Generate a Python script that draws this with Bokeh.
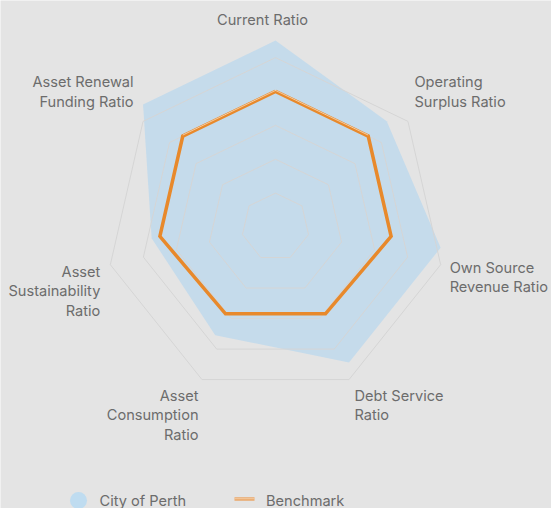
import numpy as np
from bokeh.plotting import figure
from bokeh.models import Range1d
from bokeh.embed import file_html
from bokeh.resources import INLINE
from bokeh.core.properties import value

# ---------------- data ----------------
categories = ["Current Ratio", "Operating\nSurplus Ratio", "Own Source\nRevenue Ratio",
              "Debt Service\nRatio", "Asset\nConsumption\nRatio",
              "Asset\nSustainability\nRatio", "Asset Renewal\nFunding Ratio"]
city_of_perth = [100, 84, 100, 100, 82, 75, 100]
benchmark = [70, 70, 70, 68, 68, 70, 70]
ring_levels = [20, 40, 60, 80, 100]
series_names = ["City of Perth", "Benchmark"]

# ---------------- layout ----------------
W, H = 551, 508
CX, CY = 275, 226.5        # grid centre
SERIES_CY = 209.5          # series polygons sit slightly higher, as in the reference
R = 169.4
VMAX = 100
FONT = value("Inter")
FS = "14.6px"
TXT = "#6c6c6c"
BG = "#e4e4e4"

n = len(categories)
ang = np.arange(n) * 2 * np.pi / n


def poly(vals, cy):
    r = np.asarray(vals, dtype=float) / VMAX * R
    return list(CX + r * np.sin(ang)), list(cy - r * np.cos(ang))


p = figure(width=W, height=H, x_range=Range1d(0, W), y_range=Range1d(H, 0),
           x_axis_type=None, y_axis_type=None, toolbar_location=None,
           output_backend="svg", min_border=0)
p.background_fill_color = BG
p.border_fill_color = BG
p.outline_line_color = None
p.grid.visible = False

# City of Perth area
cx, cy = poly(city_of_perth, SERIES_CY)
p.patch(cx, cy, fill_color="#c5dbeb", line_color=None)

# grid rings
for lv in ring_levels:
    gx, gy = poly([lv] * n, CY)
    p.line(gx + gx[:1], gy + gy[:1], line_color="#d5d5d5", line_width=1)

# benchmark
bx, by = poly(benchmark, SERIES_CY)
p.line(bx + bx[:1], by + by[:1], line_color="#e8892b", line_width=3.5, line_join="miter")
# light highlight on the two top edges
hx = [bx[-1], bx[0], bx[1]]
hy = [by[-1] - 1.0, by[0] - 1.0, by[1] - 1.0]
p.line(hx, hy, line_color="#f6d3ae", line_width=0.9, line_join="miter")

# axis labels
ox, oy = poly([VMAX] * n, CY)
label_place = [(-13, -38, "center"), (6.5, -39, "left"), (9, 3, "left"), (5.5, 16, "left"),
               (-3.5, 16, "right"), (-10, 7, "right"), (-9.5, -39, "right")]
LINE = 19.5
for i, lab in enumerate(categories):
    dx, dy, al = label_place[i]
    for j, line in enumerate(lab.split("\n")):
        p.text(x=[ox[i] + dx], y=[oy[i] + dy + j * LINE], text=[line],
               text_align=al, text_baseline="middle", text_font=FONT,
               text_font_size=FS, text_color=TXT)

# legend
p.scatter(x=[78], y=[500], size=17, fill_color="#bfdcf0", line_color=None)
p.text(x=[99], y=[500], text=[series_names[0]], text_align="left", text_baseline="middle",
       text_font=FONT, text_font_size=FS, text_color=TXT)
p.line(x=[234, 254], y=[498.5, 498.5], line_color="#eaa86c", line_width=3.5)
p.line(x=[234, 254], y=[498.2, 498.2], line_color="#f5d3ae", line_width=0.8)
p.text(x=[265.5], y=[500], text=[series_names[1]], text_align="left", text_baseline="middle",
       text_font=FONT, text_font_size=FS, text_color=TXT)

open("out.html", "w").write(file_html(p, INLINE))
